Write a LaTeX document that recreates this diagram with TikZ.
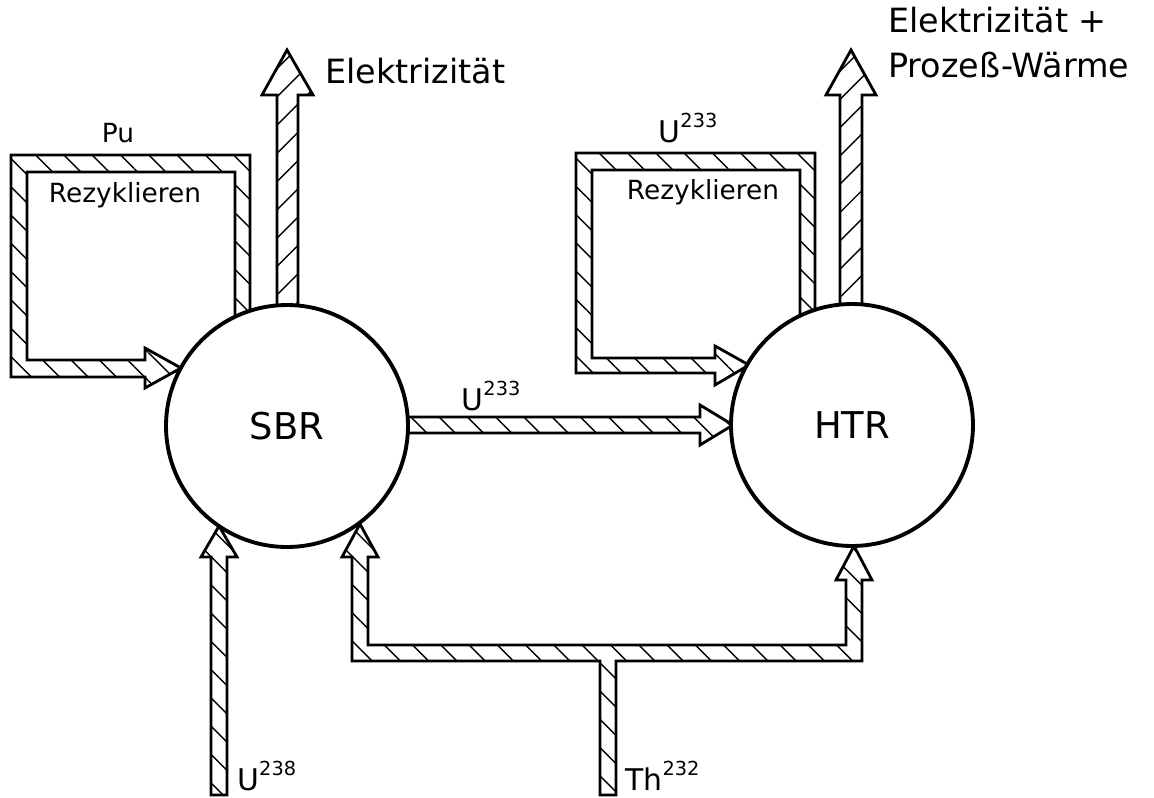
\documentclass[tikz,border=0pt]{standalone}
\usepackage{fontspec}
\setmainfont{DejaVu Sans}
\usetikzlibrary{patterns.meta}

\newcommand{\iso}[2]{#1\raisebox{8.5pt}{\fontsize{11}{11}\selectfont #2}}

\tikzset{
  reactor/.style={circle,draw,line width=2.2pt,fill=white,minimum size=4.84cm,
    inner sep=0pt,font=\fontsize{21}{24}\selectfont},
  pipe/.style={draw,line width=1.6pt,line join=miter,
    pattern={Lines[angle=-45,distance=0.4cm,line width=0.8pt]}},
  outpipe/.style={pipe,pattern={Lines[angle=45,distance=0.4cm,line width=0.8pt]}},
  small/.style={font=\fontsize{15}{17}\selectfont},
  flow/.style={font=\fontsize{17}{20}\selectfont},
  big/.style={font=\fontsize{19}{24}\selectfont,anchor=base west,inner sep=0pt},
}

\begin{document}
\begin{tikzpicture}[x=0.02cm,y=-0.02cm]
  \useasboundingbox (0,0) rectangle (1154,798);

  % Pu recycling loop
  \draw[pipe] (181,368) -- (145,388) -- (145,377) -- (11,377) -- (11,155)
    -- (250,155) -- (250,330) -- (235,330) -- (235,172) -- (27,172)
    -- (27,360) -- (145,360) -- (145,348) -- cycle;
  % U233 recycling loop
  \draw[pipe] (749,365) -- (715,385) -- (715,373) -- (576,373) -- (576,153)
    -- (815,153) -- (815,340) -- (800,340) -- (800,170) -- (592,170)
    -- (592,358) -- (715,358) -- (715,346) -- cycle;
  % electricity
  \draw[outpipe] (287,50) -- (313,95) -- (298,95) -- (298,330) -- (277,330)
    -- (277,95) -- (262,95) -- cycle;
  \draw[outpipe] (851,50) -- (876,95) -- (862,95) -- (862,330) -- (840,330)
    -- (840,95) -- (826,95) -- cycle;
  % U233 from SBR to HTR
  \draw[pipe] (733,425) -- (700,445) -- (700,433) -- (395,433) -- (395,417)
    -- (700,417) -- (700,405) -- cycle;
  % U238 feed
  \draw[pipe] (219,526) -- (237,557) -- (227,557) -- (227,795) -- (211,795)
    -- (211,557) -- (201,557) -- cycle;
  % Th232 feed to both reactors
  \draw[pipe] (360,524) -- (378,557) -- (368,557) -- (368,645) -- (846,645)
    -- (846,580) -- (836,580) -- (854,546) -- (872,580) -- (862,580)
    -- (862,661) -- (616,661) -- (616,795) -- (600,795) -- (600,661)
    -- (352,661) -- (352,557) -- (342,557) -- cycle;

  \node[reactor] (sbr) at (287,426) {SBR};
  \node[reactor] (htr) at (852,425) {HTR};

  \node[small] (pu) at (118,133) {Pu};
  \node[small] (recyl) at (125,195) {Rezyklieren};
  \node[small] (recyr) at (703,192) {Rezyklieren};
  \node[flow] (uloop) at (688,128) {\iso{U}{233}};
  \node[flow] (umid) at (491,396) {\iso{U}{233}};
  \node[big] (elsbr) at (325,83) {Elektrizität};
  \node[big] (elhtr) at (888,32) {Elektrizität +};
  \node[big] (heat) at (888,77) {Prozeß-Wärme};
  \node[flow,anchor=base west,inner sep=0pt] (u238) at (237,790) {\iso{U}{238}};
  \node[flow,anchor=base west,inner sep=0pt] (th232) at (625,790) {\iso{Th}{232}};
\end{tikzpicture}
\end{document}
